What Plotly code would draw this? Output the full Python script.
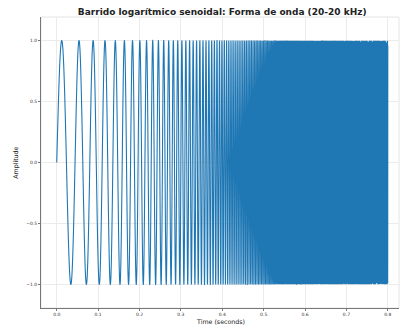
import numpy as np
import plotly.graph_objects as go

# Sweep parameters
F_START = 20.0          # Hz, start frequency
F_END = 20000.0         # Hz, nominal end frequency (title)
SWEEP_T = 1.28          # s, nominal sweep length (estimated from cycle spacing)
SHOWN_T = 0.8           # s, portion plotted
SAMPLE_RATE = 22050     # Hz

x_ticks = [0.0, 0.1, 0.2, 0.3, 0.4, 0.5, 0.6, 0.7, 0.8]
x_tick_labels = ["0.0", "0.1", "0.2", "0.3", "0.4", "0.5", "0.6", "0.7", "0.8"]
y_ticks = [-1.0, -0.5, 0.0, 0.5, 1.0]
y_tick_labels = ["\u22121.0", "\u22120.5", "0.0", "0.5", "1.0"]

t = np.arange(int(SHOWN_T * SAMPLE_RATE) + 1) / SAMPLE_RATE
k = np.log(F_END / F_START)
phase = 2 * np.pi * F_START * SWEEP_T / k * (np.exp(t * k / SWEEP_T) - 1)
y = np.sin(phase)

fig = go.Figure()
fig.add_trace(go.Scatter(x=t, y=y, mode="lines",
                         line=dict(color="#1f77b4", width=1.1, simplify=False),
                         hoverinfo="skip", showlegend=False))

font = "DejaVu Sans, Arial, sans-serif"
fig.update_layout(
    width=404, height=325,
    margin=dict(l=41, r=5, t=17, b=17, autoexpand=False),
    paper_bgcolor="white", plot_bgcolor="white",
    title=dict(text="<b>Barrido logarítmico senoidal: Forma de onda (20-20 kHz)</b>",
               x=0.55, xanchor="center", y=0.965, yanchor="middle",
               font=dict(family=font, size=9, color="#222")),
    font=dict(family=font, color="#333"),
    xaxis=dict(range=[-0.038, 0.827], tickvals=x_ticks, ticktext=x_tick_labels,
               tickfont=dict(size=4.5, color="#333"), showgrid=True,
               gridcolor="#ebebeb", gridwidth=0.6, zeroline=False,
               showline=True, linecolor="#777", linewidth=0.8,
               ticks="outside", ticklen=2, tickcolor="#777", tickwidth=0.6,
               automargin=False),
    yaxis=dict(range=[-1.194, 1.194], tickvals=y_ticks, ticktext=y_tick_labels,
               tickfont=dict(size=4.5, color="#333"), showgrid=True,
               gridcolor="#ebebeb", gridwidth=0.6, zeroline=False,
               showline=True, linecolor="#777", linewidth=0.8,
               ticks="outside", ticklen=2, tickcolor="#777", tickwidth=0.6,
               automargin=False),
    shapes=[dict(type="rect", xref="paper", yref="paper", x0=0, x1=1, y0=0, y1=1,
                 line=dict(color="#dddddd", width=0.8), layer="below")],
    annotations=[
        dict(text="Time (seconds)", xref="paper", yref="paper", x=0.5, y=-0.029,
             xanchor="center", yanchor="top", showarrow=False,
             font=dict(family=font, size=6.3, color="#222")),
        dict(text="Amplitude", xref="paper", yref="paper", x=-0.055, y=0.5,
             xanchor="right", yanchor="middle", showarrow=False, textangle=-90,
             font=dict(family=font, size=6.3, color="#222")),
    ],
)

fig.write_html("out.html", config={"displayModeBar": False},
               post_script="document.body.style.margin='0';document.body.style.padding='0';")
